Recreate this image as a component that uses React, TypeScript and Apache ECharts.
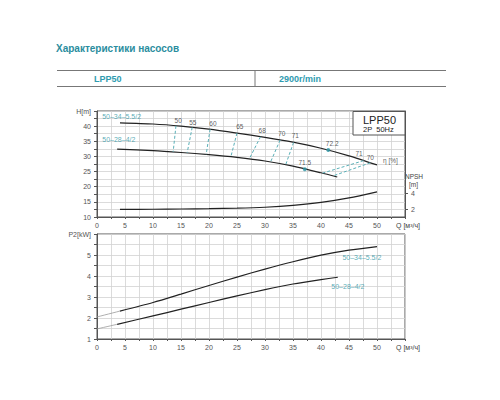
import * as echarts from "echarts"
import { useEffect, useRef } from "react"

// Q-H curves
const h1Q = [4.1, 10, 15, 20, 25, 30, 35, 40, 45, 50]
const h1H = [41.1, 40.7, 40.0, 39.0, 37.7, 36.3, 34.7, 32.7, 30.2, 27.2]
const h2Q = [3.6, 10, 15, 20, 25, 30, 35, 40, 42.9]
const h2H = [32.4, 31.9, 31.3, 30.6, 29.7, 28.5, 26.8, 24.6, 23.2]

// NPSH curve
const npshQ = [4.1, 10, 15, 20, 25, 30, 35, 40, 45, 50]
const npshV = [1.95, 1.97, 2.0, 2.04, 2.1, 2.22, 2.45, 2.82, 3.38, 4.15]

// power curves
const p1Q = [4.1, 10, 15, 20, 25, 30, 35, 40, 45, 50]
const p1V = [2.33, 2.74, 3.14, 3.55, 3.95, 4.33, 4.68, 4.99, 5.23, 5.4]
const p2Q = [3.6, 10, 15, 20, 25, 30, 35, 40, 43]
const p2V = [1.7, 2.1, 2.42, 2.74, 3.05, 3.35, 3.62, 3.83, 3.94]
const p1ExtQ = [0, 4.1]
const p1ExtV = [2.05, 2.33]
const p2ExtQ = [0, 3.6]
const p2ExtV = [1.48, 1.7]

// iso-efficiency dashed lines (top point on upper curve, bottom on lower)
const isoTopQ = [14.1, 17.0, 20.2, 25.0, 29.2, 32.7, 35.1, 47.6, 48.8]
const isoTopH = [40.1, 39.6, 39.0, 37.7, 36.5, 35.4, 34.6, 28.6, 27.9]
const isoBotQ = [13.6, 16.1, 19.5, 23.9, 27.2, 31.0, 33.7, 40.3, 42.2]
const isoBotH = [31.5, 31.2, 30.7, 29.9, 29.2, 28.2, 27.3, 24.5, 23.6]

// efficiency labels
const effText = ["50", "55", "60", "65", "68", "70", "71", "72.2", "71", "70", "71.5", "η [%]"]
const effQ = [14.5, 17.1, 20.7, 25.5, 29.5, 33.0, 35.4, 42.0, 46.8, 48.8, 37.1, 52.4]
const effH = [41.7, 41.3, 41.0, 40.0, 38.7, 37.7, 37.0, 34.4, 31.1, 29.8, 28.1, 28.8]
const effDotQ = [41.3, 37.1]
const effDotH = [32.1, 25.8]

// model names
const models = ["50–34–5.5/2", "50–28–4/2"]
const modelTopQ = [4.4, 3.9]
const modelTopH = [43.2, 35.6]
const modelBotQ = [47.3, 44.8]
const modelBotP = [4.9, 3.48]

const npshTicks = [2, 4]

const teal = "#2f97a6"
const ink = "#222"
const axisGray = "#555"
const font = "Liberation Sans"

const zip = (a: number[], b: number[]) => a.map((v, i) => [v, b[i]])

export default function App() {
  const ref = useRef<HTMLDivElement>(null)

  useEffect(() => {
    if (!ref.current) return
    const chart = echarts.init(ref.current, null, { renderer: "svg" })

    const qAxis = (gridIndex: number) => ({
      type: "value" as const,
      gridIndex,
      min: 0,
      max: 55,
      interval: 2.5,
      axisLine: { lineStyle: { color: axisGray } },
      axisTick: { length: 2, lineStyle: { color: axisGray } },
      axisLabel: {
        fontSize: 7,
        color: "#555",
        margin: 5,
        formatter: (v: number) => (v % 5 === 0 && v < 55 ? String(v) : ""),
      },
      splitLine: { lineStyle: { color: "#d2d2d2", width: 0.8 } },
    })

    const curve = (x: number, y: number, data: number[][], color = ink, width = 1.2) => ({
      type: "line" as const,
      xAxisIndex: x,
      yAxisIndex: y,
      data,
      smooth: 0.25,
      showSymbol: false,
      silent: true,
      lineStyle: { color, width },
    })

    const labels = (x: number, y: number, q: number[], v: number[], text: string[], color: string, size: number) => ({
      type: "scatter" as const,
      xAxisIndex: x,
      yAxisIndex: y,
      symbolSize: 1,
      silent: true,
      itemStyle: { color: "transparent" },
      label: { show: true, position: "inside" as const, formatter: "{b}", color, fontSize: size, fontFamily: font },
      data: q.map((qq, i) => ({ name: text[i], value: [qq, v[i]] })),
    })

    const isoSeries = isoTopQ.map((q, i) => ({
      type: "line" as const,
      xAxisIndex: 0,
      yAxisIndex: 0,
      showSymbol: false,
      silent: true,
      data: [
        [q, isoTopH[i]],
        [isoBotQ[i], isoBotH[i]],
      ],
      lineStyle: { color: "#5ab0b8", width: 1, type: [3, 2] },
    }))

    chart.setOption({
      animation: false,
      backgroundColor: "#fff",
      textStyle: { fontFamily: font },
      grid: [
        { left: 97, top: 111, width: 308, height: 106, show: true, borderColor: axisGray, borderWidth: 1 },
        { left: 97, top: 234, width: 308, height: 105, show: true, borderColor: axisGray, borderWidth: 1 },
      ],
      xAxis: [qAxis(0), qAxis(1)],
      yAxis: [
        {
          type: "value",
          gridIndex: 0,
          min: 10,
          max: 45,
          interval: 2.5,
          axisLine: { show: true, lineStyle: { color: axisGray } },
          axisTick: { show: true, length: 3, lineStyle: { color: axisGray } },
          axisLabel: {
            fontSize: 7,
            color: "#555",
            margin: 6,
            formatter: (v: number) => (v === 45 ? "H[m]" : v % 5 === 0 ? String(v) : ""),
          },
          splitLine: { lineStyle: { color: "#d2d2d2", width: 0.8 } },
        },
        {
          type: "value",
          gridIndex: 0,
          position: "right",
          min: 1,
          max: 14.25,
          axisLine: { show: true, lineStyle: { color: axisGray } },
          axisTick: { show: true, length: 3, customValues: npshTicks, lineStyle: { color: axisGray } },
          axisLabel: { fontSize: 7, color: "#555", margin: 6, customValues: npshTicks },
          splitLine: { show: false },
        },
        {
          type: "value",
          gridIndex: 1,
          min: 1,
          max: 6,
          interval: 0.5,
          axisLine: { show: true, lineStyle: { color: axisGray } },
          axisTick: { show: true, length: 3, lineStyle: { color: axisGray } },
          axisLabel: {
            fontSize: 7,
            color: "#555",
            margin: 6,
            formatter: (v: number) => (v === 6 ? "P2[kW]" : Number.isInteger(v) ? String(v) : ""),
          },
          splitLine: { lineStyle: { color: "#d2d2d2", width: 0.8 } },
        },
      ],
      series: [
        curve(0, 0, zip(h1Q, h1H)),
        curve(0, 0, zip(h2Q, h2H)),
        curve(0, 1, zip(npshQ, npshV)),
        ...isoSeries,
        {
          type: "scatter",
          xAxisIndex: 0,
          yAxisIndex: 0,
          symbolSize: 4,
          silent: true,
          itemStyle: { color: teal },
          data: zip(effDotQ, effDotH),
          z: 5,
        },
        labels(0, 0, effQ, effH, effText, "#333", 6.5),
        labels(0, 0, modelTopQ, modelTopH, models, teal, 7),
        curve(1, 2, zip(p1ExtQ, p1ExtV), "#9a9a9a", 0.8),
        curve(1, 2, zip(p2ExtQ, p2ExtV), "#9a9a9a", 0.8),
        curve(1, 2, zip(p1Q, p1V)),
        curve(1, 2, zip(p2Q, p2V)),
        labels(1, 2, modelBotQ, modelBotP, models, teal, 7),
      ],
      graphic: [
        {
          type: "text",
          left: 56,
          top: 43,
          style: { text: "Характеристики насосов", fill: "#2a8d9e", font: `bold 10px "${font}"` },
        },
        { type: "line", shape: { x1: 57, y1: 70.5, x2: 446, y2: 70.5 }, style: { stroke: "#777", lineWidth: 1.2 } },
        { type: "line", shape: { x1: 57, y1: 86.5, x2: 446, y2: 86.5 }, style: { stroke: "#777", lineWidth: 1.2 } },
        { type: "line", shape: { x1: 255, y1: 70.5, x2: 255, y2: 86.5 }, style: { stroke: "#777", lineWidth: 1 } },
        {
          type: "text",
          left: 94,
          top: 74,
          style: { text: "LPP50", fill: "#2f9bb0", font: `bold 9px "${font}"` },
        },
        {
          type: "text",
          left: 279,
          top: 74,
          style: { text: "2900r/min", fill: "#2f9bb0", font: `bold 9px "${font}"` },
        },
        {
          type: "rect",
          shape: { x: 353, y: 111.5, width: 52, height: 23.5 },
          style: { fill: "#fff", stroke: axisGray, lineWidth: 1 },
          z: 10,
        },
        {
          type: "text",
          left: 363,
          top: 114.5,
          z: 11,
          style: { text: "LPP50", fill: ink, font: `11px "${font}"` },
        },
        {
          type: "text",
          left: 363,
          top: 125.5,
          z: 11,
          style: { text: "2P  50Hz", fill: ink, font: `7.5px "${font}"` },
        },
        {
          type: "text",
          left: 405,
          top: 173,
          style: { text: "NPSH", fill: "#444", font: `6.5px "${font}"` },
        },
        {
          type: "text",
          left: 409,
          top: 181,
          style: { text: "[m]", fill: "#444", font: `6.5px "${font}"` },
        },
        {
          type: "text",
          left: 396,
          top: 222,
          style: { text: "Q [м³/ч]", fill: "#444", font: `7px "${font}"` },
        },
        {
          type: "text",
          left: 396,
          top: 344,
          style: { text: "Q [м³/ч]", fill: "#444", font: `7px "${font}"` },
        },
      ],
    })

    return () => chart.dispose()
  }, [])

  return (
    <div
      ref={ref}
      style={{ position: "fixed", left: 0, top: 0, width: 500, height: 400, background: "#fff" }}
    />
  )
}
